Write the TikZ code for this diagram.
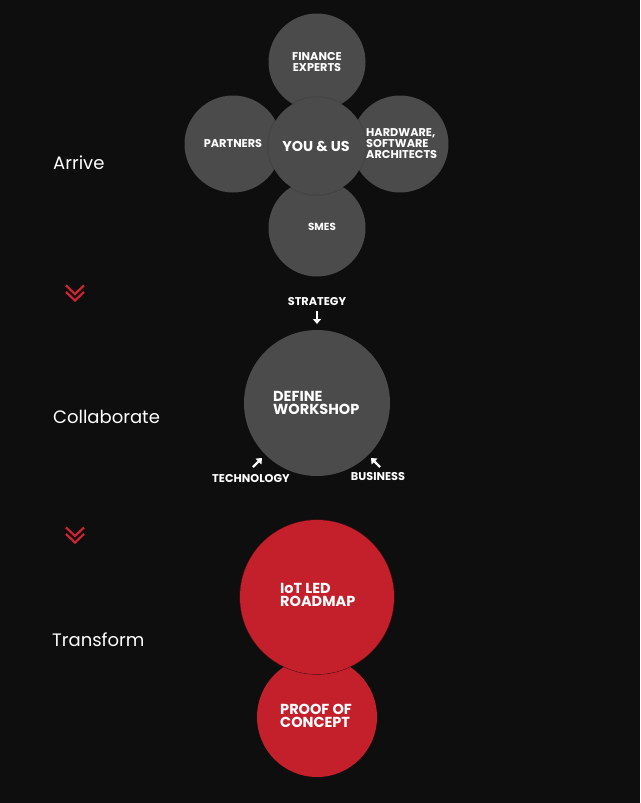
\documentclass[tikz,border=0pt]{standalone}
\usepackage{fontspec}
\setmainfont{Poppins}
\usetikzlibrary{arrows.meta}
\definecolor{bg}{HTML}{0E0E0E}
\definecolor{circ}{HTML}{4B4B4B}
\definecolor{redc}{HTML}{C4202C}
\definecolor{chev}{HTML}{D0232F}
\tikzset{
  greyc/.style={circle, fill=circ, minimum size=#1, inner sep=0pt},
  redcirc/.style={circle, fill=redc, minimum size=#1, inner sep=0pt},
  ctext/.style={text=white, font=\bfseries\fontsize{11.3}{10.5}\selectfont, align=center, inner sep=0pt},
  ltext/.style={text=white, font=\bfseries\fontsize{11.3}{11}\selectfont, align=left, inner sep=0pt, anchor=west},
  btext/.style={text=white, font=\bfseries\fontsize{14.5}{13.5}\selectfont, align=left, inner sep=0pt, anchor=west},
  stagelabel/.style={text=white, font=\fontsize{18}{20}\selectfont, anchor=west, inner sep=0pt},
  smallarrow/.style={white, line width=2.2pt, -{Triangle[length=5pt,width=8pt]}},
  chevline/.style={chev, line width=2.2pt},
}
\begin{document}
\begin{tikzpicture}[x=1pt,y=-1pt]
\fill[bg] (0,0) rectangle (640,803);
\useasboundingbox (0,0) rectangle (640,803);

% Arrive cluster
\node[greyc=97pt] (fin) at (317,62) {};
\node[greyc=97pt] (par) at (233,144) {};
\node[greyc=97pt] (hw) at (400,144) {};
\node[greyc=97pt] (sme) at (317,228) {};
\fill[black, opacity=0.07] (317,146) circle (50);
\node[greyc=97pt] (you) at (317,146) {};

\node[ctext] (fint) at (317,62) {FINANCE\\EXPERTS};
\node[ctext] (part) at (233,144) {PARTNERS};
\node[ctext, font=\bfseries\fontsize{14.3}{14}\selectfont] (yout) at (316,146) {YOU \& US};
\node[ltext] (hwt) at (366,144) {HARDWARE,\\SOFTWARE\\ARCHITECTS};
\node[ctext, font=\bfseries\fontsize{10.3}{10}\selectfont] (smet) at (322,227) {SMES};

% stage labels
\node[stagelabel] (arrive) at (53,163) {Arrive};
\node[stagelabel] (collab) at (53,417) {Collaborate};
\node[stagelabel] (trans) at (52,640) {Transform};

% chevrons
\coordinate (c1) at (75,293);
\coordinate (c2) at (75,535);
\foreach \c in {c1,c2}{
  \draw[chevline] ([shift={(-9,-7.5)}]\c) -- ([shift={(0,1)}]\c) -- ([shift={(9,-7.5)}]\c);
  \draw[chevline] ([shift={(-9,-1)}]\c) -- ([shift={(0,7.5)}]\c) -- ([shift={(9,-1)}]\c);
}

% Collaborate
\node[greyc=146pt] (def) at (317,403) {};
\node[btext] (deft) at (273,403) {DEFINE\\WORKSHOP};
\node[ctext] (strat) at (317,302) {STRATEGY};
\node[ctext] (tech) at (251,479) {TECHNOLOGY};
\node[ctext] (bus) at (378,477) {BUSINESS};
\coordinate (sa1) at (317,311);
\coordinate (sa2) at (317,324);
\coordinate (ta1) at (253,467);
\coordinate (ta2) at (262,458);
\coordinate (ba1) at (380,467);
\coordinate (ba2) at (371,458);
\draw[smallarrow] (sa1) -- (sa2);
\draw[smallarrow] (ta1) -- (ta2);
\draw[smallarrow] (ba1) -- (ba2);

% Transform
\node[redcirc=120pt] (poc) at (317,717) {};
\draw[black!60!redc, line width=0.6pt] (317,597) circle (77.3);
\node[redcirc=154pt] (iot) at (317,597) {};
\node[btext] (iott) at (280,595) {IoT LED\\ROADMAP};
\node[btext] (poct) at (280,716) {PROOF OF\\CONCEPT};
\end{tikzpicture}
\end{document}
